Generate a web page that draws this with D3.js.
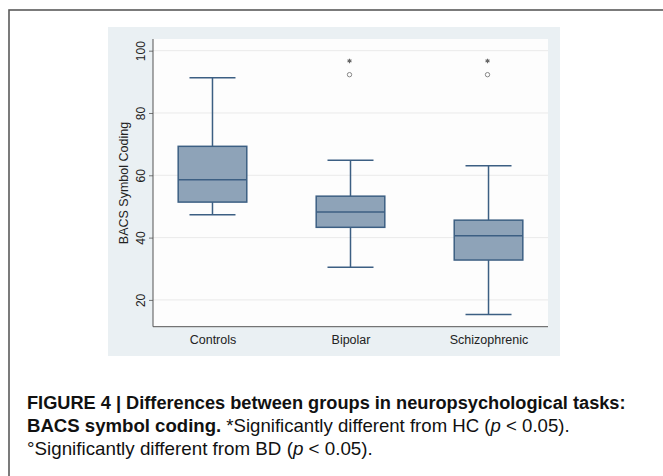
<!DOCTYPE html>
<html>
<head>
<meta charset="utf-8">
<script src="https://cdn.jsdelivr.net/npm/d3@7"></script>
<style>
  html, body { margin: 0; padding: 0; background: #ffffff; }
  svg { display: block; }
</style>
</head>
<body>
<svg id="chart" width="663" height="476"></svg>
<script>
// ---- data ----
const categories = ["Controls", "Bipolar", "Schizophrenic"];
const lowerWhisker = [47.3, 30.5, 15.3];
const q1 = [51.4, 43.3, 32.8];
const median = [58.6, 48.2, 40.6];
const q3 = [69.3, 53.3, 45.6];
const upperWhisker = [91.3, 64.8, 63.1];
// significance markers: asterisk (vs HC) and circle (vs BD)
const asteriskGroups = ["Bipolar", "Schizophrenic"];
const asteriskValues = [96.7, 96.7];
const circleGroups = ["Bipolar", "Schizophrenic"];
const circleValues = [92.3, 92.3];
const yTicks = [20, 40, 60, 80, 100];
const yLabel = "BACS Symbol Coding";
const yDomain = [11.4, 103.75];

const svg = d3.select("#chart");

// figure frame
svg.append("rect")
  .attr("x", 9).attr("y", 10).attr("width", 700).attr("height", 520)
  .attr("fill", "#ffffff").attr("stroke", "#5a5a5a").attr("stroke-width", 1.6);

// outer chart panel
const panel = { x: 108, y: 27, w: 452, h: 329 };
svg.append("rect")
  .attr("x", panel.x).attr("y", panel.y).attr("width", panel.w).attr("height", panel.h)
  .attr("fill", "#eaf0f3");

// plot area
const plot = { left: 153, right: 548, top: 39, bottom: 326.7 };
svg.append("rect")
  .attr("x", plot.left).attr("y", plot.top)
  .attr("width", plot.right - plot.left).attr("height", plot.bottom - plot.top)
  .attr("fill", "#fdfdfd");

const y = d3.scaleLinear().domain(yDomain).range([plot.bottom, plot.top]);
const x = d3.scalePoint().domain(categories).range([plot.left, plot.right]).padding(0.431);

// gridlines
svg.append("g").selectAll("line").data(yTicks).join("line")
  .attr("x1", plot.left).attr("x2", plot.right)
  .attr("y1", d => y(d)).attr("y2", d => y(d))
  .attr("stroke", "#eaeaea").attr("stroke-width", 1);

// y axis
const yAxis = svg.append("g")
  .attr("transform", `translate(${plot.left},0)`)
  .call(d3.axisLeft(y).tickValues(yTicks).tickSize(4).tickPadding(3).tickSizeOuter(0));
yAxis.select(".domain").remove();
yAxis.selectAll(".tick line").attr("stroke", "#555").attr("stroke-width", 0.8);
yAxis.selectAll(".tick text")
  .attr("font-family", "Liberation Sans, Arial, sans-serif")
  .attr("font-size", 12).attr("fill", "#222")
  .attr("x", null).attr("dy", null)
  .attr("text-anchor", "middle")
  .attr("transform", "translate(-12.5,0) rotate(-90)")
  .attr("dy", "0.36em");
svg.append("line")
  .attr("x1", plot.left).attr("x2", plot.left)
  .attr("y1", plot.top).attr("y2", plot.bottom)
  .attr("stroke", "#555").attr("stroke-width", 1);

// x axis
const xAxis = svg.append("g")
  .attr("transform", `translate(0,${plot.bottom})`)
  .call(d3.axisBottom(x).tickSize(0).tickPadding(8).tickSizeOuter(0));
xAxis.select(".domain").remove();
xAxis.selectAll(".tick text")
  .attr("font-family", "Liberation Sans, Arial, sans-serif")
  .attr("font-size", 12.5).attr("fill", "#222");
svg.append("line")
  .attr("x1", plot.left).attr("x2", plot.right)
  .attr("y1", plot.bottom).attr("y2", plot.bottom)
  .attr("stroke", "#555").attr("stroke-width", 1);

// y label
svg.append("text")
  .attr("transform", `translate(123.5,183) rotate(-90)`)
  .attr("text-anchor", "middle")
  .attr("dy", "0.36em")
  .attr("font-family", "Liberation Sans, Arial, sans-serif")
  .attr("font-size", 12.5).attr("fill", "#222")
  .text(yLabel);

// boxes
const boxHalf = 34.3, capHalf = 23;
const stroke = "#3c5f83", fill = "#8ea3b8";
const g = svg.append("g");
categories.forEach((c, i) => {
  const cx = x(c);
  g.append("line").attr("x1", cx).attr("x2", cx)
    .attr("y1", y(upperWhisker[i])).attr("y2", y(q3[i]))
    .attr("stroke", stroke).attr("stroke-width", 1.5);
  g.append("line").attr("x1", cx).attr("x2", cx)
    .attr("y1", y(q1[i])).attr("y2", y(lowerWhisker[i]))
    .attr("stroke", stroke).attr("stroke-width", 1.5);
  [upperWhisker[i], lowerWhisker[i]].forEach(v => {
    g.append("line").attr("x1", cx - capHalf).attr("x2", cx + capHalf)
      .attr("y1", y(v)).attr("y2", y(v))
      .attr("stroke", stroke).attr("stroke-width", 1.5);
  });
  g.append("rect")
    .attr("x", cx - boxHalf).attr("width", boxHalf * 2)
    .attr("y", y(q3[i])).attr("height", y(q1[i]) - y(q3[i]))
    .attr("fill", fill).attr("stroke", stroke).attr("stroke-width", 1.5);
  g.append("line").attr("x1", cx - boxHalf).attr("x2", cx + boxHalf)
    .attr("y1", y(median[i])).attr("y2", y(median[i]))
    .attr("stroke", stroke).attr("stroke-width", 1.5);
});

// markers
svg.append("g").selectAll("path").data(asteriskGroups).join("path")
  .attr("transform", (d, i) => `translate(${x(d) - 1},${y(asteriskValues[i])})`)
  .attr("d", d3.symbol(d3.symbolAsterisk, 14)())
  .attr("fill", "none").attr("stroke", "#666").attr("stroke-width", 1.1);
svg.append("g").selectAll("circle").data(circleGroups).join("circle")
  .attr("cx", d => x(d) - 1).attr("cy", (d, i) => y(circleValues[i]))
  .attr("r", 2.2)
  .attr("fill", "none").attr("stroke", "#888").attr("stroke-width", 1);

// caption (condensed look: horizontally scaled to the reference widths)
const capFont = "'Liberation Sans Narrow', 'Liberation Sans', Arial, sans-serif";
const capSize = 17.5;
const cap = svg.append("g").attr("font-family", capFont).attr("font-size", capSize).attr("fill", "#111");
function fitLine(t, x0, y0, width) {
  const len = t.node().getComputedTextLength();
  t.attr("transform", `translate(${x0},${y0}) scale(${width / len},1)`);
}
const l1 = cap.append("text").attr("font-weight", "bold")
  .text("FIGURE 4 | Differences between groups in neuropsychological tasks:");
fitLine(l1, 27, 409, 599);
const l2 = cap.append("text");
l2.append("tspan").attr("font-weight", "bold").text("BACS symbol coding.");
l2.append("tspan").text(" *Significantly different from HC (");
l2.append("tspan").attr("font-style", "italic").text("p");
l2.append("tspan").text(" < 0.05).");
fitLine(l2, 27, 432, 543);
const l3 = cap.append("text");
l3.append("tspan").text("°Significantly different from BD (");
l3.append("tspan").attr("font-style", "italic").text("p");
l3.append("tspan").text(" < 0.05).");
fitLine(l3, 27, 455, 346);
</script>
</body>
</html>
